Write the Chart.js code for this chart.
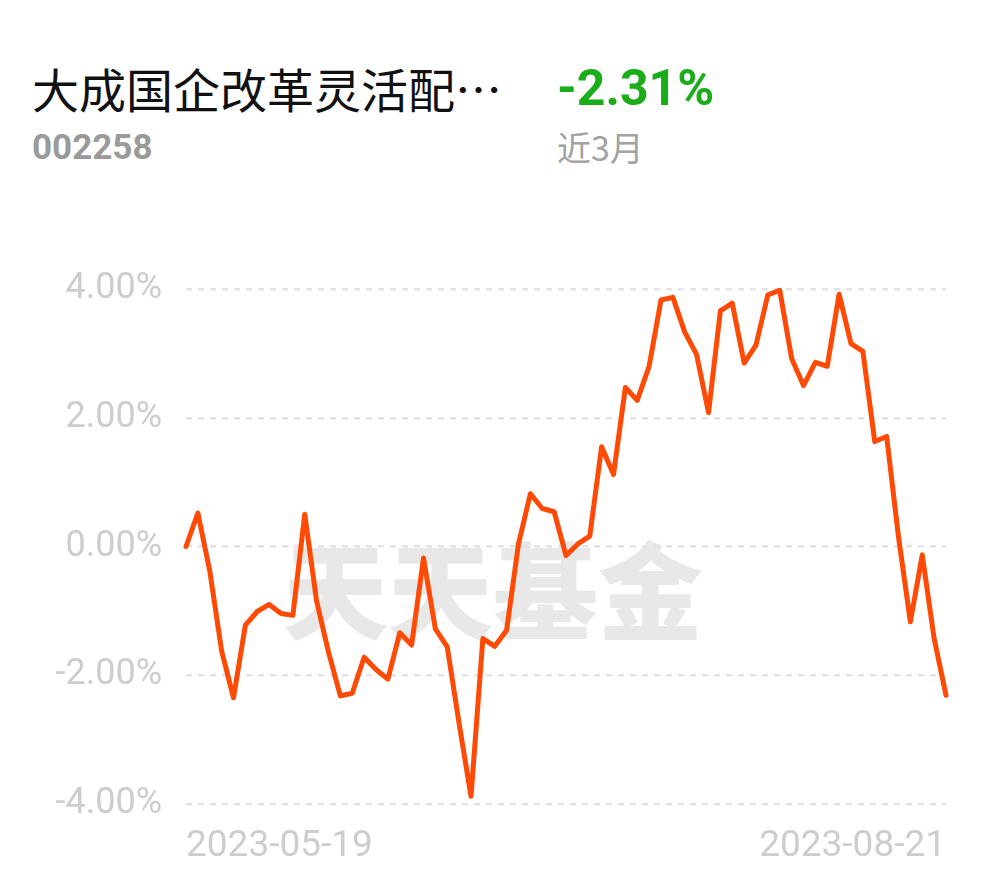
<!DOCTYPE html>
<html>
<head>
<meta charset="utf-8">
<script src="https://cdn.jsdelivr.net/npm/chart.js@4.4.0/dist/chart.umd.min.js"></script>
<style>
  html, body { margin: 0; padding: 0; background: #fff; }
  #wrap { position: relative; width: 990px; height: 878px; overflow: hidden; }
  .t { position: absolute; white-space: nowrap; }
  #name { left: 32px; top: 60px; font: 400 47px "Noto Sans CJK SC", sans-serif; color: #111; line-height: 56px; }
  #ret { left: 557px; top: 59px; font: 700 50px Roboto, "Noto Sans", sans-serif; color: #1aad19; line-height: 58px; letter-spacing: 0px; }
  #code { left: 32px; top: 126px; font: 700 35px Roboto, sans-serif; color: #9a9a9a; line-height: 44px; }
  #period { left: 557px; top: 124px; font: 400 34px "Noto Sans CJK SC", sans-serif; color: #a3a3a3; line-height: 46px; }
  #wm { left: 283px; top: 520px; font: 900 105px "Noto Sans CJK SC", serif; color: #e8e8e8; line-height: 130px; }
  #cv { position: absolute; left: 0; top: 0; width: 990px; height: 878px; }
</style>
</head>
<body>
<div id="wrap">
  <div class="t" id="wm">天天基金</div>
  <div class="t" id="name">大成国企改革灵活配⋯</div>
  <div class="t" id="ret">-2.31%</div>
  <div class="t" id="code">002258</div>
  <div class="t" id="period">近3月</div>
  <div id="cv"><canvas id="chart"></canvas></div>
</div>
<script>
const dates = [
  "2023-05-19","2023-05-22","2023-05-23","2023-05-24","2023-05-25","2023-05-26","2023-05-29","2023-05-30","2023-05-31",
  "2023-06-01","2023-06-02","2023-06-05","2023-06-06","2023-06-07","2023-06-08","2023-06-09","2023-06-12","2023-06-13",
  "2023-06-14","2023-06-15","2023-06-16","2023-06-19","2023-06-20","2023-06-21","2023-06-26","2023-06-27","2023-06-28",
  "2023-06-29","2023-06-30",
  "2023-07-03","2023-07-04","2023-07-05","2023-07-06","2023-07-07","2023-07-10","2023-07-11","2023-07-12","2023-07-13",
  "2023-07-14","2023-07-17","2023-07-18","2023-07-19","2023-07-20","2023-07-21","2023-07-24","2023-07-25","2023-07-26",
  "2023-07-27","2023-07-28","2023-07-31",
  "2023-08-01","2023-08-02","2023-08-03","2023-08-04","2023-08-07","2023-08-08","2023-08-09","2023-08-10","2023-08-11",
  "2023-08-14","2023-08-15","2023-08-16","2023-08-17","2023-08-18","2023-08-21"
];
const returns = [
  0.00, 0.52, -0.38, -1.62, -2.35, -1.22, -1.01, -0.90, -1.04, -1.07,
  0.50, -0.85, -1.64, -2.32, -2.28, -1.72, -1.91, -2.06, -1.34, -1.53,
  -0.18, -1.28, -1.56, -2.75, -3.88, -1.43, -1.55, -1.30, 0.04, 0.82,
  0.59, 0.54, -0.14, 0.04, 0.16, 1.55, 1.12, 2.47, 2.27, 2.80,
  3.83, 3.87, 3.33, 2.98, 2.08, 3.66, 3.78, 2.85, 3.13, 3.91,
  3.98, 2.92, 2.50, 2.86, 2.80, 3.92, 3.15, 3.03, 1.63, 1.71,
  0.15, -1.17, -0.13, -1.43, -2.31
];
const yTicks = [-4, -2, 0, 2, 4];

new Chart(document.getElementById('chart'), {
  type: 'line',
  data: {
    labels: dates,
    datasets: [{
      data: returns,
      borderColor: '#ff4a05',
      borderWidth: 5,
      borderJoinStyle: 'round',
      borderCapStyle: 'round',
      pointRadius: 0,
      tension: 0,
      fill: false,
      clip: false
    }]
  },
  options: {
    responsive: true,
    maintainAspectRatio: false,
    animation: false,
    layout: { padding: { top: 289, right: 44, bottom: 0, left: 0 } },
    plugins: { legend: { display: false }, tooltip: { enabled: false } },
    scales: {
      x: {
        grid: { display: false, drawTicks: false },
        border: { display: false },
        afterFit: s => { s.height = 74; },
        afterBuildTicks: s => { const t = s.ticks; s.ticks = [t[0], t[t.length - 1]]; },
        ticks: {
          autoSkip: false,
          maxRotation: 0,
          align: 'inner',
          padding: 21,
          color: '#cdcdcd',
          font: { family: 'Roboto', size: 37 },
          callback: function (v) { return this.getLabelForValue(v); }
        }
      },
      y: {
        min: -4, max: 4,
        afterFit: s => { s.width = 186; },
        afterBuildTicks: s => { s.ticks = yTicks.map(v => ({ value: v })); },
        grid: { color: '#e3e3e3', lineWidth: 2.5, drawTicks: false },
        border: { display: false, dash: [6, 6] },
        ticks: {
          padding: 24,
          color: '#cdcdcd',
          font: { family: 'Roboto', size: 36 },
          callback: v => v.toFixed(2) + '%'
        }
      }
    }
  }
});
</script>
</body>
</html>
